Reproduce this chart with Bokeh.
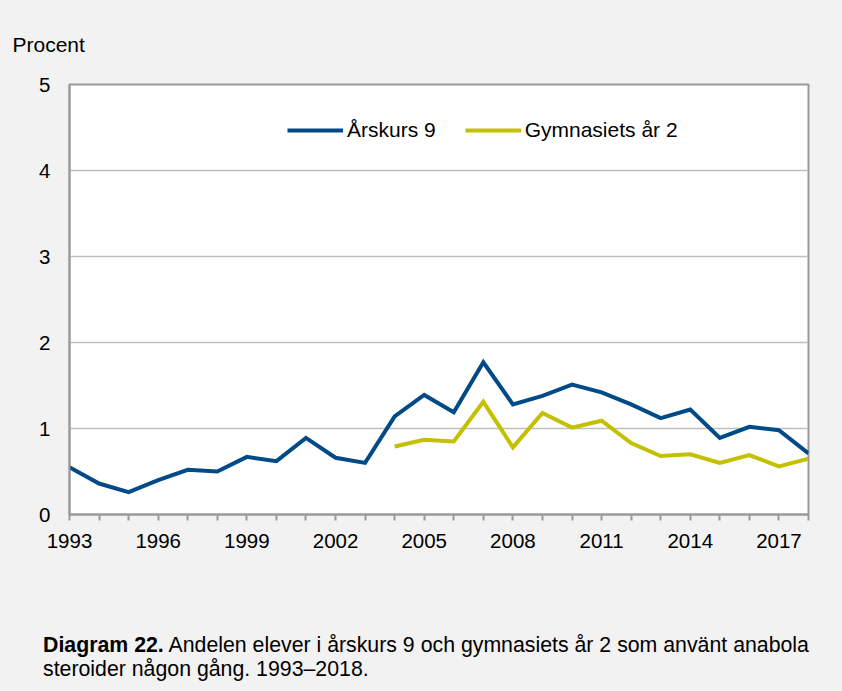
from bokeh.plotting import figure
from bokeh.models import Range1d, FixedTicker, Legend, LegendItem, Title, Div
from bokeh.layouts import column
from bokeh.embed import file_html
from bokeh.resources import INLINE

years = list(range(1993, 2019))
arskurs9 = [0.55, 0.36, 0.26, 0.40, 0.52, 0.50, 0.67, 0.62, 0.89, 0.66, 0.60,
            1.14, 1.39, 1.19, 1.77, 1.28, 1.38, 1.51, 1.42, 1.28, 1.12, 1.22,
            0.89, 1.02, 0.98, 0.71]
gym_years = list(range(2004, 2019))
gymnasiet2 = [0.79, 0.87, 0.85, 1.31, 0.78, 1.18, 1.01, 1.09, 0.83, 0.68, 0.70,
              0.60, 0.69, 0.56, 0.65]
y_ticks = [0, 1, 2, 3, 4, 5]
x_label_years = [1993, 1996, 1999, 2002, 2005, 2008, 2011, 2014, 2017]
series_names = ["Årskurs 9", "Gymnasiets år 2"]
y_title = "Procent"
caption_bold = "Diagram 22."
caption_rest = " Andelen elever i årskurs 9 och gymnasiets år 2 som använt anabola"
caption_line2 = "steroider någon gång. 1993–2018."

BLUE = "#004a87"
YELLOW = "#c3c000"
BG = "#f2f2f2"
FONT = "Liberation Sans"
FS_TICK = "20.5px"
FS = "21px"

p = figure(width=842, height=620, output_backend="svg", toolbar_location=None,
           x_range=Range1d(1993, 2018), y_range=Range1d(0, 5),
           min_border_left=69, min_border_right=34, min_border_top=84,
           min_border_bottom=106)
p.background_fill_color = "white"
p.border_fill_color = BG
p.outline_line_color = "#999999"
p.outline_line_width = 2

# grid
p.xgrid.grid_line_color = None
p.ygrid.grid_line_color = "#bfbfbf"
p.ygrid.grid_line_width = 1.5
p.ygrid.ticker = FixedTicker(ticks=y_ticks)

# y axis
p.yaxis.ticker = FixedTicker(ticks=y_ticks)
p.yaxis.major_tick_out = 0
p.yaxis.major_tick_in = 0
p.yaxis.minor_tick_out = 0
p.yaxis.minor_tick_in = 0
p.yaxis.axis_line_color = "#999999"
p.yaxis.axis_line_width = 2
p.yaxis.major_label_standoff = 19
p.yaxis.major_label_text_font = FONT
p.yaxis.major_label_text_font_size = FS_TICK
p.yaxis.major_label_text_color = "black"

# x axis
p.xaxis.ticker = FixedTicker(ticks=years)
p.xaxis.major_label_overrides = {y: (str(y) if y in x_label_years else "") for y in years}
p.xaxis.major_tick_out = 6
p.xaxis.major_tick_in = 0
p.xaxis.minor_tick_out = 0
p.xaxis.minor_tick_in = 0
p.xaxis.major_tick_line_color = "#999999"
p.xaxis.major_tick_line_width = 2
p.xaxis.axis_line_color = "#999999"
p.xaxis.axis_line_width = 2
p.xaxis.major_label_standoff = 13
p.xaxis.major_label_text_font = FONT
p.xaxis.major_label_text_font_size = FS_TICK
p.xaxis.major_label_text_color = "black"

r1 = p.line(years, arskurs9, line_color=BLUE, line_width=4, line_join="miter")
r2 = p.line(gym_years, gymnasiet2, line_color=YELLOW, line_width=4, line_join="miter")

legend = Legend(items=[LegendItem(label=series_names[0], renderers=[r1]),
                       LegendItem(label=series_names[1], renderers=[r2])],
                orientation="horizontal", location=(218, 372),
                glyph_width=56, glyph_height=20, label_height=20,
                label_standoff=4, spacing=29, padding=0, margin=0,
                border_line_color=None, background_fill_alpha=0,
                label_text_font=FONT, label_text_font_size=FS,
                label_text_color="black")
p.add_layout(legend)

p.add_layout(Title(text=y_title, align="left", offset=-57, standoff=58,
                   text_font=FONT, text_font_size=FS, text_font_style="normal",
                   text_color="black"), "above")

caption = Div(
    text=f"<b>{caption_bold}</b>{caption_rest}<br>{caption_line2}",
    width=842, height=71,
    styles={"background-color": BG, "padding": "13px 0 0 43px",
            "box-sizing": "border-box", "font-family": FONT,
            "font-size": "21.3px", "line-height": "24px", "color": "black",
            "white-space": "nowrap", "margin": "0"})

layout = column(p, caption, spacing=0)
html = file_html(layout, INLINE)
html = html.replace("</head>",
                    f"<style>html, body {{ background-color: {BG}; }}</style></head>", 1)
open("out.html", "w").write(html)
